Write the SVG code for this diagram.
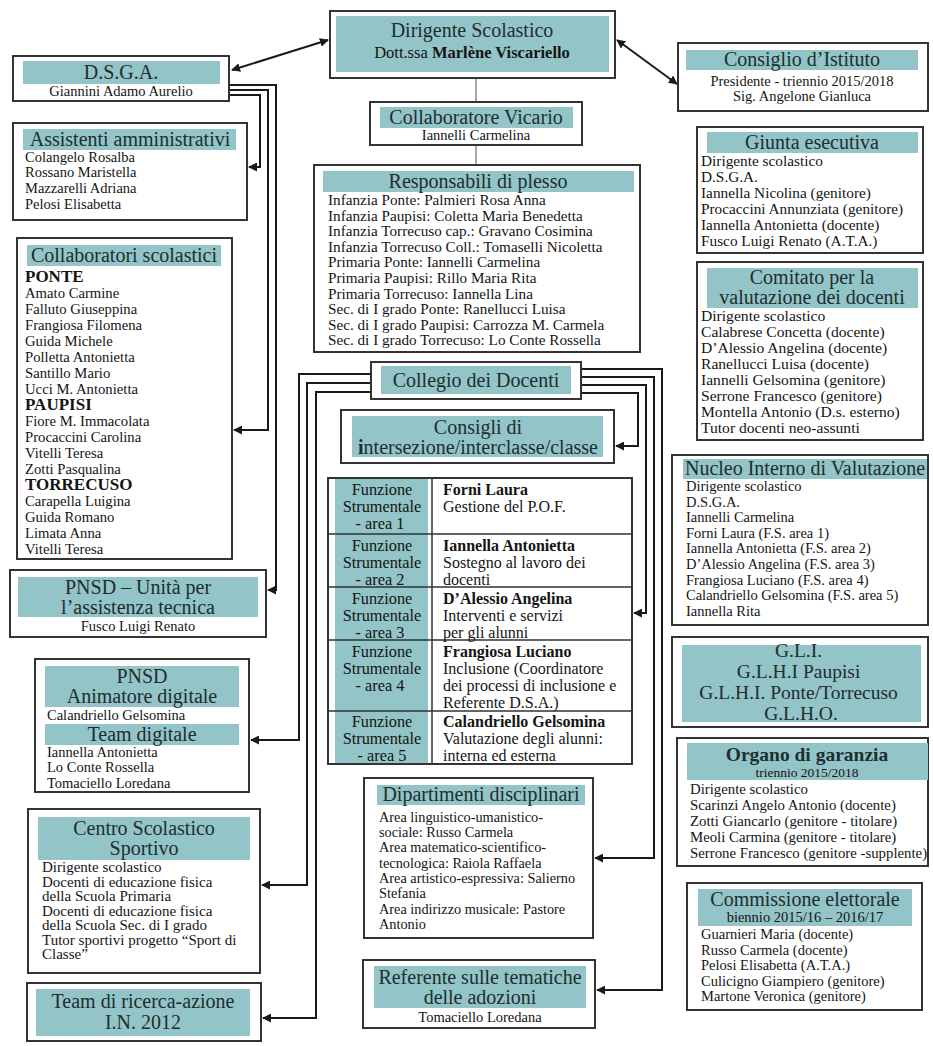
<svg xmlns="http://www.w3.org/2000/svg" width="933" height="1046" viewBox="0 0 933 1046">
<style>
.box{fill:#fff;stroke:#333;stroke-width:2}
.band{fill:#93c4c7}
.ti{font-family:"Liberation Serif",serif;font-size:20px;fill:#1e2e30;text-anchor:middle}
.tx{font-family:"Liberation Serif",serif;font-size:14.5px;fill:#141414}
.c{text-anchor:middle}
.b{font-weight:bold}
.con{fill:none;stroke:#1a1a1a;stroke-width:2}
.thin{fill:none;stroke:#555;stroke-width:1}
.grid{stroke:#333;stroke-width:1.5}
</style>
<defs>
<marker id="ah" viewBox="0 0 10 10" refX="9" refY="5" markerWidth="4.5" markerHeight="4.5" orient="auto-start-reverse">
<path d="M0,0 L10,5 L0,10 z" fill="#1a1a1a"/>
</marker>
</defs>
<rect width="933" height="1046" fill="#fff"/>

<g id="connectors">
<path class="con" d="M328,40 L232,70" marker-start="url(#ah)" marker-end="url(#ah)"/>
<path class="con" d="M617,40 L677,84" marker-start="url(#ah)" marker-end="url(#ah)"/>
<path class="thin" d="M476,78 V102 M476,145 V165"/>
<path class="con" d="M229,85 H276 V590 H268" marker-end="url(#ah)"/>
<path class="con" d="M229,90 H268 V430 H234" marker-end="url(#ah)"/>
<path class="con" d="M229,95 H260 V167 H249" marker-end="url(#ah)"/>
<path class="con" d="M371,374 H299 V740 H251" marker-end="url(#ah)"/>
<path class="con" d="M371,383 H307 V885 H262" marker-end="url(#ah)"/>
<path class="con" d="M371,392 H316 V1018 H263" marker-end="url(#ah)"/>
<path class="con" d="M581,369 H662 V990 H597" marker-end="url(#ah)"/>
<path class="con" d="M581,377 H654 V858 H595" marker-end="url(#ah)"/>
<path class="con" d="M581,385 H646 V613 H634" marker-end="url(#ah)"/>
<path class="con" d="M581,393 H638 V446 H616" marker-end="url(#ah)"/>
</g>

<g id="dirigente">
<rect class="box" x="330" y="11" width="285" height="67"/>
<rect class="band" x="336" y="16" width="273" height="56"/>
<text class="ti" x="472" y="37">Dirigente Scolastico</text>
<text class="tx c" x="472" y="58" style="font-size:16.5px">Dott.ssa <tspan class="b">Marlène Viscariello</tspan></text>
</g>

<g id="dsga">
<rect class="box" x="13" y="56" width="216" height="45"/>
<rect class="band" x="23" y="61" width="197" height="23"/>
<text class="ti" x="121" y="79">D.S.G.A.</text>
<text class="tx c" x="121" y="96">Giannini Adamo Aurelio</text>
</g>

<g id="consiglio">
<rect class="box" x="678" y="43" width="250" height="68"/>
<rect class="band" x="686" y="50" width="232" height="20"/>
<text class="ti" x="802" y="66">Consiglio d’Istituto</text>
<text class="tx c" x="802" y="86">Presidente - triennio 2015/2018</text>
<text class="tx c" x="802" y="101">Sig. Angelone Gianluca</text>
</g>

<g id="vicario">
<rect class="box" x="370" y="102" width="212" height="43"/>
<rect class="band" x="380" y="107" width="193" height="21"/>
<text class="ti" x="476" y="124">Collaboratore Vicario</text>
<text class="tx c" x="476" y="140">Iannelli Carmelina</text>
</g>

<g id="responsabili">
<rect class="box" x="314" y="165" width="326" height="187"/>
<rect class="band" x="323" y="171" width="311" height="21"/>
<text class="ti" x="478" y="188">Responsabili di plesso</text>
<text class="tx" style="font-size:15.2px">
<tspan x="328" y="205">Infanzia Ponte: Palmieri Rosa Anna</tspan>
<tspan x="328" y="220.6">Infanzia Paupisi: Coletta Maria Benedetta</tspan>
<tspan x="328" y="236.2">Infanzia Torrecuso cap.: Gravano Cosimina</tspan>
<tspan x="328" y="251.8">Infanzia Torrecuso Coll.: Tomaselli Nicoletta</tspan>
<tspan x="328" y="267.4">Primaria Ponte: Iannelli Carmelina</tspan>
<tspan x="328" y="283">Primaria Paupisi: Rillo Maria Rita</tspan>
<tspan x="328" y="298.6">Primaria Torrecuso: Iannella Lina</tspan>
<tspan x="328" y="314.2">Sec. di I grado Ponte: Ranellucci Luisa</tspan>
<tspan x="328" y="329.8">Sec. di I grado Paupisi: Carrozza M. Carmela</tspan>
<tspan x="328" y="345.4">Sec. di I grado Torrecuso: Lo Conte Rossella</tspan>
</text>
</g>

<g id="collegio">
<rect class="box" x="371" y="362" width="210" height="37"/>
<rect class="band" x="381" y="366" width="190" height="28"/>
<text class="ti" x="476" y="387">Collegio dei Docenti</text>
</g>

<g id="consigli">
<rect class="box" x="341" y="410" width="273" height="53"/>
<rect class="band" x="352" y="416" width="251" height="41"/>
<text class="ti" x="478" y="434">Consigli di</text>
<text class="ti" x="478" y="454"><tspan class="b">i</tspan>ntersezione/interclasse/classe</text>
</g>

<g id="funzioni">
<rect class="box" x="328" y="478" width="304" height="286"/>
<rect class="band" x="335" y="479" width="93" height="284"/>
<path class="grid" d="M432,478 V764 M328,534 H632 M328,587 H632 M328,640 H632 M328,711 H632"/>
<text class="tx c" style="font-size:16.3px">
<tspan x="382" y="495">Funzione</tspan><tspan x="382" y="512">Strumentale</tspan><tspan x="382" y="529">- area 1</tspan>
<tspan x="382" y="551">Funzione</tspan><tspan x="382" y="568">Strumentale</tspan><tspan x="382" y="585">- area 2</tspan>
<tspan x="382" y="604">Funzione</tspan><tspan x="382" y="621">Strumentale</tspan><tspan x="382" y="638">- area 3</tspan>
<tspan x="382" y="657">Funzione</tspan><tspan x="382" y="674">Strumentale</tspan><tspan x="382" y="691">- area 4</tspan>
<tspan x="382" y="727">Funzione</tspan><tspan x="382" y="744">Strumentale</tspan><tspan x="382" y="761">- area 5</tspan>
</text>
<text class="tx" style="font-size:16px">
<tspan x="443" y="495" class="b">Forni Laura</tspan><tspan x="443" y="512">Gestione del P.O.F.</tspan>
<tspan x="443" y="551" class="b">Iannella Antonietta</tspan><tspan x="443" y="568">Sostegno al lavoro dei</tspan><tspan x="443" y="585">docenti</tspan>
<tspan x="443" y="604" class="b">D’Alessio Angelina</tspan><tspan x="443" y="621">Interventi e servizi</tspan><tspan x="443" y="638">per gli alunni</tspan>
<tspan x="443" y="657" class="b">Frangiosa Luciano</tspan><tspan x="443" y="674">Inclusione (Coordinatore</tspan><tspan x="443" y="691">dei processi di inclusione e</tspan><tspan x="443" y="708">Referente D.S.A.)</tspan>
<tspan x="443" y="727" class="b">Calandriello Gelsomina</tspan><tspan x="443" y="744">Valutazione degli alunni:</tspan><tspan x="443" y="761">interna ed esterna</tspan>
</text>
</g>

<g id="dipartimenti">
<rect class="box" x="364" y="778" width="229" height="160"/>
<rect class="band" x="377" y="785" width="208" height="20"/>
<text class="ti" x="481" y="801">Dipartimenti disciplinari</text>
<text class="tx" style="font-size:14.3px">
<tspan x="379" y="822">Area linguistico-umanistico-</tspan>
<tspan x="379" y="837">sociale: Russo Carmela</tspan>
<tspan x="379" y="852">Area matematico-scientifico-</tspan>
<tspan x="379" y="868">tecnologica: Raiola Raffaela</tspan>
<tspan x="379" y="883">Area artistico-espressiva: Salierno</tspan>
<tspan x="379" y="898">Stefania</tspan>
<tspan x="379" y="914">Area indirizzo musicale: Pastore</tspan>
<tspan x="379" y="929">Antonio</tspan>
</text>
</g>

<g id="referente">
<rect class="box" x="363" y="960" width="232" height="68"/>
<rect class="band" x="374" y="966" width="212" height="42"/>
<text class="ti" x="480" y="984">Referente sulle tematiche</text>
<text class="ti" x="480" y="1004">delle adozioni</text>
<text class="tx c" x="480" y="1022">Tomaciello Loredana</text>
</g>

<g id="assistenti">
<rect class="box" x="13" y="123" width="234" height="97"/>
<rect class="band" x="23" y="129" width="213" height="21"/>
<text class="ti" x="130" y="146">Assistenti amministrativi</text>
<text class="tx">
<tspan x="25" y="162">Colangelo Rosalba</tspan>
<tspan x="25" y="177">Rossano Maristella</tspan>
<tspan x="25" y="193">Mazzarelli Adriana</tspan>
<tspan x="25" y="209">Pelosi Elisabetta</tspan>
</text>
</g>

<g id="collaboratori">
<rect class="box" x="17" y="238" width="215" height="321"/>
<rect class="band" x="27" y="245" width="194" height="21"/>
<text class="ti" x="124" y="262">Collaboratori scolastici</text>
<text class="tx" style="font-size:14.7px">
<tspan x="25" y="282" class="b" font-size="17">PONTE</tspan>
<tspan x="25" y="298">Amato Carmine</tspan>
<tspan x="25" y="314">Falluto Giuseppina</tspan>
<tspan x="25" y="330">Frangiosa Filomena</tspan>
<tspan x="25" y="346">Guida Michele</tspan>
<tspan x="25" y="362">Polletta Antonietta</tspan>
<tspan x="25" y="378">Santillo Mario</tspan>
<tspan x="25" y="394">Ucci M. Antonietta</tspan>
<tspan x="25" y="410" class="b" font-size="17">PAUPISI</tspan>
<tspan x="25" y="426">Fiore M. Immacolata</tspan>
<tspan x="25" y="442">Procaccini Carolina</tspan>
<tspan x="25" y="458">Vitelli Teresa</tspan>
<tspan x="25" y="474">Zotti Pasqualina</tspan>
<tspan x="25" y="490" class="b" font-size="17">TORRECUSO</tspan>
<tspan x="25" y="506">Carapella Luigina</tspan>
<tspan x="25" y="522">Guida Romano</tspan>
<tspan x="25" y="538">Limata Anna</tspan>
<tspan x="25" y="554">Vitelli Teresa</tspan>
</text>
</g>

<g id="pnsd-unita">
<rect class="box" x="10" y="570" width="256" height="67"/>
<rect class="band" x="18" y="577" width="240" height="40"/>
<text class="ti" x="138" y="594">PNSD – Unità per</text>
<text class="ti" x="138" y="614">l’assistenza tecnica</text>
<text class="tx c" x="138" y="631">Fusco Luigi Renato</text>
</g>

<g id="pnsd-animatore">
<rect class="box" x="35" y="659" width="214" height="133"/>
<rect class="band" x="45" y="666" width="194" height="41"/>
<text class="ti" x="142" y="683">PNSD</text>
<text class="ti" x="142" y="703">Animatore digitale</text>
<text class="tx" x="47" y="720">Calandriello Gelsomina</text>
<rect class="band" x="45" y="724" width="194" height="21"/>
<text class="ti" x="142" y="741">Team digitale</text>
<text class="tx">
<tspan x="47" y="757">Iannella Antonietta</tspan>
<tspan x="47" y="772">Lo Conte Rossella</tspan>
<tspan x="47" y="788">Tomaciello Loredana</tspan>
</text>
</g>

<g id="centro-sportivo">
<rect class="box" x="28" y="809" width="232" height="164"/>
<rect class="band" x="38" y="817" width="212" height="43"/>
<text class="ti" x="144" y="835">Centro Scolastico</text>
<text class="ti" x="144" y="855">Sportivo</text>
<text class="tx" style="font-size:15px">
<tspan x="42" y="872">Dirigente scolastico</tspan>
<tspan x="42" y="886.5">Docenti di educazione fisica</tspan>
<tspan x="42" y="901">della Scuola Primaria</tspan>
<tspan x="42" y="915.5">Docenti di educazione fisica</tspan>
<tspan x="42" y="930">della Scuola Sec. di I grado</tspan>
<tspan x="42" y="944.5">Tutor sportivi progetto “Sport di</tspan>
<tspan x="42" y="959">Classe”</tspan>
</text>
</g>

<g id="team-ricerca">
<rect class="box" x="27" y="983" width="234" height="58"/>
<rect class="band" x="36" y="989" width="214" height="47"/>
<text class="ti" x="143" y="1008">Team di ricerca-azione</text>
<text class="ti" x="143" y="1029">I.N. 2012</text>
</g>

<g id="giunta">
<rect class="box" x="697" y="127" width="226" height="126"/>
<rect class="band" x="707" y="132" width="211" height="21"/>
<text class="ti" x="812" y="149">Giunta esecutiva</text>
<text class="tx" style="font-size:15.3px">
<tspan x="701" y="166">Dirigente scolastico</tspan>
<tspan x="701" y="182">D.S.G.A.</tspan>
<tspan x="701" y="198">Iannella Nicolina (genitore)</tspan>
<tspan x="701" y="214">Procaccini Annunziata (genitore)</tspan>
<tspan x="701" y="230">Iannella Antonietta (docente)</tspan>
<tspan x="701" y="246">Fusco Luigi Renato (A.T.A.)</tspan>
</text>
</g>

<g id="comitato">
<rect class="box" x="697" y="262" width="226" height="178"/>
<rect class="band" x="707" y="268" width="211" height="40"/>
<text class="ti" x="812" y="284">Comitato per la</text>
<text class="ti" x="812" y="304">valutazione dei docenti</text>
<text class="tx" style="font-size:15.6px">
<tspan x="701" y="321">Dirigente scolastico</tspan>
<tspan x="701" y="337">Calabrese Concetta (docente)</tspan>
<tspan x="701" y="353">D’Alessio Angelina (docente)</tspan>
<tspan x="701" y="369">Ranellucci Luisa (docente)</tspan>
<tspan x="701" y="385">Iannelli Gelsomina (genitore)</tspan>
<tspan x="701" y="401">Serrone Francesco (genitore)</tspan>
<tspan x="701" y="417">Montella Antonio (D.s. esterno)</tspan>
<tspan x="701" y="433">Tutor docenti neo-assunti</tspan>
</text>
</g>

<g id="nucleo">
<rect class="box" x="672" y="455" width="256" height="170"/>
<rect class="band" x="683" y="459" width="244" height="20"/>
<text class="ti" x="805" y="475">Nucleo Interno di Valutazione</text>
<text class="tx">
<tspan x="686" y="491">Dirigente scolastico</tspan>
<tspan x="686" y="506.6">D.S.G.A.</tspan>
<tspan x="686" y="522.2">Iannelli Carmelina</tspan>
<tspan x="686" y="537.8">Forni Laura (F.S. area 1)</tspan>
<tspan x="686" y="553.4">Iannella Antonietta (F.S. area 2)</tspan>
<tspan x="686" y="569">D’Alessio Angelina (F.S. area 3)</tspan>
<tspan x="686" y="584.6">Frangiosa Luciano (F.S. area 4)</tspan>
<tspan x="686" y="600.2">Calandriello Gelsomina (F.S. area 5)</tspan>
<tspan x="686" y="615.8">Iannella Rita</tspan>
</text>
</g>

<g id="gli">
<rect class="box" x="672" y="637" width="256" height="90"/>
<rect class="band" x="682" y="645" width="239" height="77"/>
<text class="ti" style="font-size:19.5px">
<tspan x="801" y="657">G.L.I.</tspan>
<tspan x="801" y="678">G.L.H.I Paupisi</tspan>
<tspan x="801" y="699">G.L.H.I. Ponte/Torrecuso</tspan>
<tspan x="801" y="720">G.L.H.O.</tspan>
</text>
</g>

<g id="organo">
<rect class="box" x="677" y="738" width="251" height="128"/>
<rect class="band" x="687" y="743" width="241" height="37"/>
<text class="ti b" x="807" y="761" style="font-size:19.5px">Organo di garanzia</text>
<text class="tx c" x="807" y="777" style="font-size:13.5px">triennio 2015/2018</text>
<text class="tx" style="font-size:14.8px">
<tspan x="690" y="794">Dirigente scolastico</tspan>
<tspan x="690" y="810">Scarinzi Angelo Antonio (docente)</tspan>
<tspan x="690" y="826">Zotti Giancarlo (genitore - titolare)</tspan>
<tspan x="690" y="842">Meoli Carmina (genitore - titolare)</tspan>
<tspan x="690" y="858">Serrone Francesco (genitore -supplente)</tspan>
</text>
</g>

<g id="commissione">
<rect class="box" x="687" y="883" width="235" height="127"/>
<rect class="band" x="698" y="889" width="214" height="37"/>
<text class="ti" x="805" y="906">Commissione elettorale</text>
<text class="tx c" x="805" y="922">biennio 2015/16 – 2016/17</text>
<text class="tx">
<tspan x="701" y="939">Guarnieri Maria (docente)</tspan>
<tspan x="701" y="955">Russo Carmela (docente)</tspan>
<tspan x="701" y="970">Pelosi Elisabetta (A.T.A.)</tspan>
<tspan x="701" y="986">Culicigno Giampiero (genitore)</tspan>
<tspan x="701" y="1001">Martone Veronica (genitore)</tspan>
</text>
</g>
</svg>
